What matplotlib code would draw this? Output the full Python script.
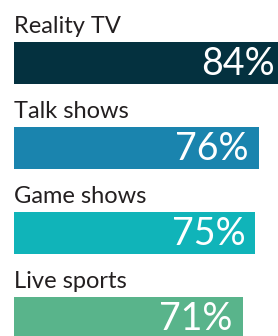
import matplotlib.pyplot as plt

categories = ['Reality TV', 'Talk shows', 'Game shows', 'Live sports']
values = [84, 76, 75, 71]
colors = ['#04313f', '#1a84ae', '#10b4b9', '#59b48b']

fig = plt.figure(figsize=(2.78, 3.36), dpi=100)
ax = fig.add_axes([14 / 278, 0, 264 / 278, 1])

pos = list(range(len(categories)))
h = 42 / 85
ax.barh(pos, values, height=h, color=colors)

for i, (c, v) in enumerate(zip(categories, values)):
    ax.text(0, i - h / 2 - 9 / 85, c, ha='left', va='baseline',
            fontsize=17, color='#231f20', family='Lato')
    ax.annotate(f'{v}%', xy=(v, i), xytext=(-7, -1), textcoords='offset points',
                ha='right', va='center', fontsize=27, color='white',
                family='Lato', annotation_clip=False)

ax.set_xlim(0, 82)
ax.set_ylim((336 - 63) / 85, -63 / 85)
ax.axis('off')

fig.savefig('out.png', dpi=100)
